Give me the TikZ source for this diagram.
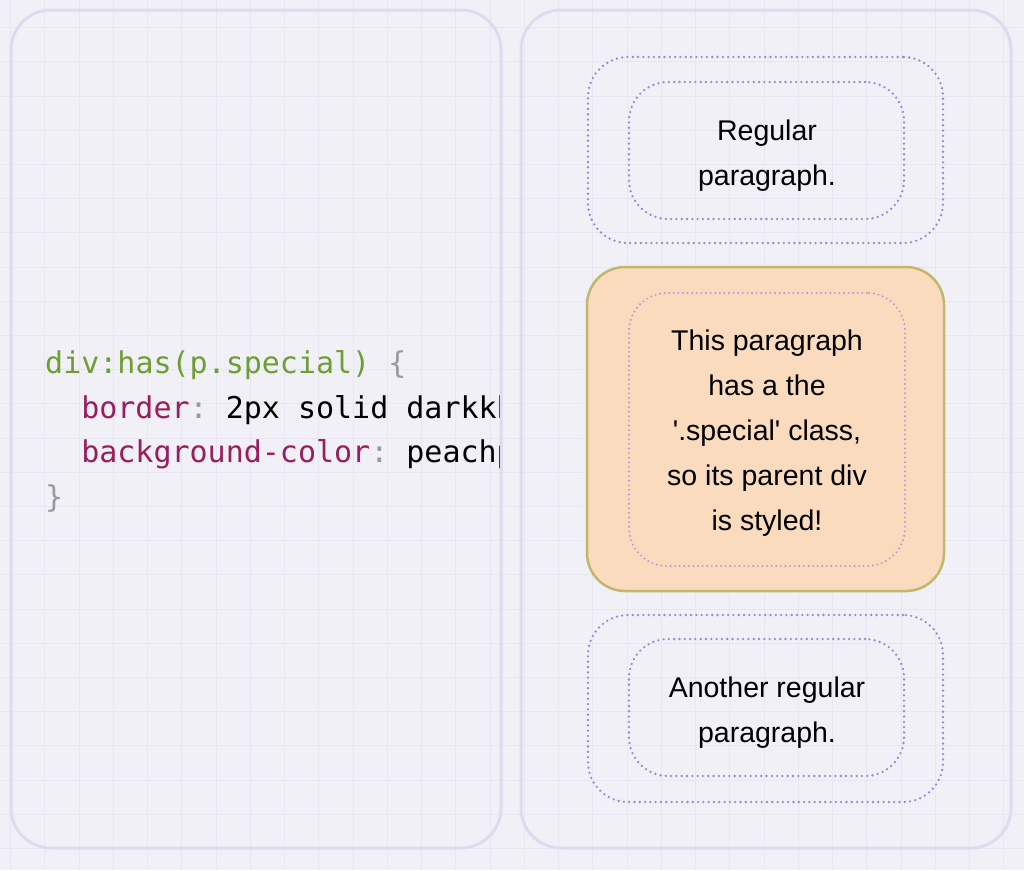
\documentclass[tikz,border=0pt]{standalone}
\usepackage{fontspec}
\setmainfont{Liberation Sans}
\newfontfamily\codefont{DejaVu Sans Mono}
\frenchspacing
\definecolor{bgc}{HTML}{F1F0F7}
\definecolor{gridc}{HTML}{E8E6F2}
\definecolor{panelc}{HTML}{E1DAEE}
\definecolor{dotc}{HTML}{9E86D6}
\definecolor{dotlight}{HTML}{AE98E0}
\definecolor{peach}{HTML}{FADBBD}
\definecolor{khaki}{HTML}{C0B86C}
\definecolor{codegreen}{HTML}{6E9E34}
\definecolor{codemaroon}{HTML}{9A1D5C}
\definecolor{codegray}{HTML}{9A9A9A}
\tikzset{
  panel/.style={draw=panelc, line width=3pt, rounded corners=40pt, inner sep=0pt},
  dotbox/.style={draw=dotc, line width=2.6pt, line cap=round, dash pattern=on 0pt off 5.3pt, rounded corners=40pt, inner sep=0pt},
  dotinner/.style={draw=dotlight, line width=2.1pt, line cap=round, dash pattern=on 0pt off 4.6pt, rounded corners=38pt, inner sep=0pt},
  specialbox/.style={draw=khaki, fill=peach, line width=2.5pt, rounded corners=38pt, inner sep=0pt},
  para/.style={align=center, font=\fontsize{28.5}{45}\selectfont, inner sep=0pt, text=black},
  codeline/.style={anchor=base west, font=\codefont\fontsize{30}{45}\selectfont, inner sep=0pt},
}
\begin{document}
\begin{tikzpicture}[x=1pt,y=-1pt]
\useasboundingbox (0,0) rectangle (1024,870);
\fill[bgc] (0,0) rectangle (1024,870);
% grid
\foreach \i in {0,...,29} {
  \draw[gridc, line width=1pt] ({10.7+34.25*\i},0) -- ({10.7+34.25*\i},870);
}
\foreach \j in {0,...,25} {
  \draw[gridc, line width=1pt] (0,{-6.5+34.2*\j}) -- (1024,{-6.5+34.2*\j});
}
% panels
\node[panel, minimum width=490pt, minimum height=838pt] (leftpanel) at (256,429) {};
\node[panel, minimum width=490pt, minimum height=838pt] (rightpanel) at (766,429) {};
% code
\begin{scope}
\clip (0,0) rectangle (499,870);
\node[codeline] (c1) at (45,373) {\textcolor{codegreen}{div:has(p.special)} \textcolor{codegray}{\{}};
\node[codeline] (c2) at (81.1,418) {\textcolor{codemaroon}{border}\textcolor{codegray}{:} 2px solid darkkhaki;};
\node[codeline] (c3) at (81.1,462) {\textcolor{codemaroon}{background-color}\textcolor{codegray}{:} peachpuff;};
\node[codeline] (c4) at (45,507) {\textcolor{codegray}{\}}};
\end{scope}
% top div
\node[dotbox, minimum width=355pt, minimum height=186pt] (d1) at (765.5,150) {};
\node[dotbox, minimum width=275pt, minimum height=137pt, rounded corners=39pt] (p1) at (766.5,150.5) {};
\node[para] (t1) at (767,155.3) {Regular\\paragraph.};
% special div
\node[specialbox, minimum width=357pt, minimum height=324pt] (d2) at (765.5,429) {};
\node[dotinner, minimum width=276pt, minimum height=273pt] (p2) at (767,429.5) {};
\node[para] (t2) at (767,432.8) {This paragraph\\has a the\\\textquotesingle.special\textquotesingle{} class,\\so its parent div\\is styled!};
% bottom div
\node[dotbox, minimum width=355pt, minimum height=187pt] (d3) at (765.5,708.5) {};
\node[dotbox, minimum width=275pt, minimum height=137pt, rounded corners=39pt] (p3) at (766.5,707.5) {};
\node[para] (t3) at (767,712.3) {Another regular\\paragraph.};
\end{tikzpicture}
\end{document}
